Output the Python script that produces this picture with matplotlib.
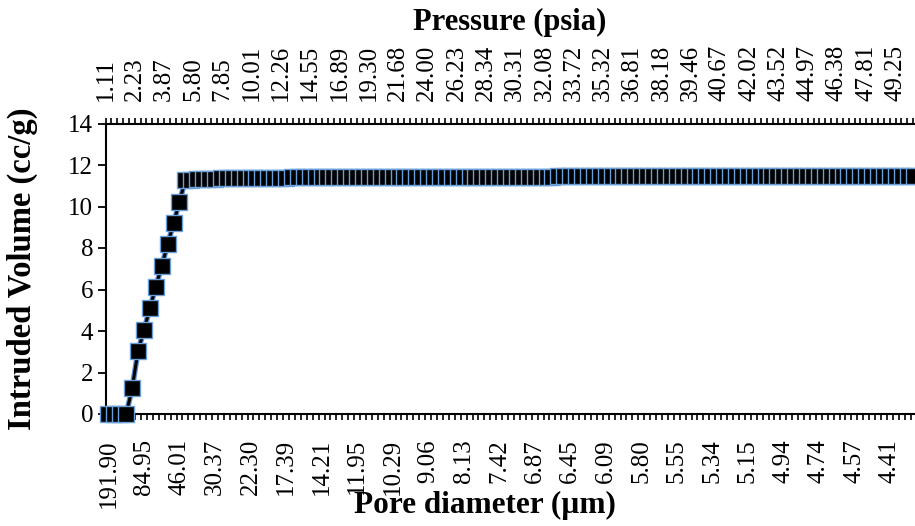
import numpy as np
import matplotlib
matplotlib.use("Agg")
import matplotlib.pyplot as plt
from matplotlib.ticker import FixedLocator, NullFormatter

# Intruded volume (cc/g), one value per measurement step
volume = [
    0.00, 0.00, 0.00, 0.00, 1.24, 3.04, 4.05, 5.09, 6.14, 7.13,
    8.18, 9.19, 10.23, 11.28,
    11.30, 11.31, 11.32, 11.33, 11.34, 11.35, 11.35, 11.36, 11.36, 11.37,
    11.37, 11.38, 11.38, 11.38, 11.39, 11.39, 11.39, 11.40, 11.40, 11.40,
    11.40, 11.41, 11.41, 11.41, 11.41, 11.41, 11.42, 11.42, 11.42, 11.42,
    11.42, 11.42, 11.43, 11.43, 11.43, 11.43, 11.43, 11.43, 11.43, 11.43,
    11.44, 11.44, 11.44, 11.44, 11.44, 11.44, 11.44, 11.44, 11.44, 11.44,
    11.44, 11.44, 11.44, 11.44, 11.44, 11.44, 11.44, 11.44, 11.44, 11.44,
    11.44, 11.44, 11.45, 11.45, 11.45, 11.45, 11.45, 11.45, 11.45, 11.45,
    11.45, 11.45, 11.45, 11.45, 11.45, 11.45, 11.45, 11.45, 11.45, 11.45,
    11.45, 11.45, 11.45, 11.45, 11.45, 11.45, 11.45, 11.45, 11.45, 11.45,
    11.45, 11.45, 11.45, 11.46, 11.46, 11.46, 11.46, 11.46, 11.46, 11.46,
    11.46, 11.46, 11.46, 11.46, 11.46, 11.46, 11.46, 11.46, 11.46, 11.46,
    11.46, 11.46, 11.46, 11.46, 11.46, 11.46, 11.46, 11.46, 11.46, 11.46,
    11.46, 11.46, 11.46,
]

# labelled categories only (every 6th on the bottom, every 5th on top)
diameter_labels = ["191.90", "84.95", "46.01", "30.37", "22.30", "17.39", "14.21",
                   "11.95", "10.29", "9.06", "8.13", "7.42", "6.87", "6.45", "6.09",
                   "5.80", "5.55", "5.34", "5.15", "4.94", "4.74", "4.57", "4.41"]
pressure_labels = ["1.11", "2.23", "3.87", "5.80", "7.85", "10.01", "12.26", "14.55",
                   "16.89", "19.30", "21.68", "24.00", "26.23", "28.34", "30.31", "32.08",
                   "33.72", "35.32", "36.81", "38.18", "39.46", "40.67", "42.02", "43.52",
                   "44.97", "46.38", "47.81", "49.25"]
diam_step = 6
pres_step = 5

plt.rcParams['font.family'] = ['Liberation Serif', 'DejaVu Serif']

W, H = 915, 526
fig = plt.figure(figsize=(W / 100, H / 100), dpi=100)
n = len(volume)
left_px, bottom_px, width_px, height_px = 105.5, 112, 811, 290.5
ax = fig.add_axes([left_px / W, bottom_px / H, width_px / W, height_px / H])

x = np.arange(n)
ax.plot(x, volume, color='#5B8FD0', lw=4, zorder=2)
ax.plot(x, volume, color='black', lw=2.2, marker='s', markersize=11.5,
        markerfacecolor='black', markeredgecolor='#6A9FDA', markeredgewidth=1.0,
        zorder=3, clip_on=False, snap=False)

ax.set_xlim(-0.5, n - 0.5)
ax.set_ylim(0, 14)
ax.set_yticks(np.arange(0, 15, 2))

# bottom: category labels between tick marks
ax.xaxis.set_major_locator(FixedLocator(np.arange(len(diameter_labels)) * diam_step))
ax.set_xticklabels(diameter_labels, rotation=90)
ax.xaxis.set_minor_locator(FixedLocator(np.arange(n + 1) - 0.5))
ax.tick_params(axis='x', which='major', length=0, pad=18, labelsize=18)
ax.tick_params(axis='x', which='minor', length=4.5, width=1.2, direction='out')
ax.tick_params(axis='y', which='major', length=6, width=1.3, direction='out',
               labelsize=18, pad=3)

for s in ['right', 'top']:
    ax.spines[s].set_visible(False)
for s in ['left', 'bottom']:
    ax.spines[s].set_linewidth(1.5)

# top: pressure axis
ax2 = ax.twiny()
top_span = width_px / 5.852
ax2.set_xlim(0, top_span)
ax2.xaxis.set_major_locator(FixedLocator(np.arange(len(pressure_labels)) * pres_step))
ax2.set_xticklabels(pressure_labels, rotation=90)
ax2.xaxis.set_minor_locator(FixedLocator(np.arange(0, int(top_span) + 1)))
ax2.xaxis.set_minor_formatter(NullFormatter())
ax2.tick_params(axis='x', which='major', length=4.5, width=1.2, pad=12, labelsize=18)
ax2.tick_params(axis='x', which='minor', length=4.5, width=1.2, direction='out')
for s in ['right', 'left', 'bottom']:
    ax2.spines[s].set_visible(False)
ax2.spines['top'].set_linewidth(1.5)

fig.text(510 / W, 1 - 22 / H, 'Pressure (psia)', ha='center', va='center',
         fontsize=22, fontweight='bold')
fig.text(485 / W, 1 - 505 / H, 'Pore diameter (µm)', ha='center', va='center',
         fontsize=22.5, fontweight='bold')
fig.text(22 / W, 1 - 269 / H, 'Intruded Volume (cc/g)', ha='center', va='center',
         rotation=90, fontsize=23.5, fontweight='bold')

fig.savefig('out.png', dpi=100)
